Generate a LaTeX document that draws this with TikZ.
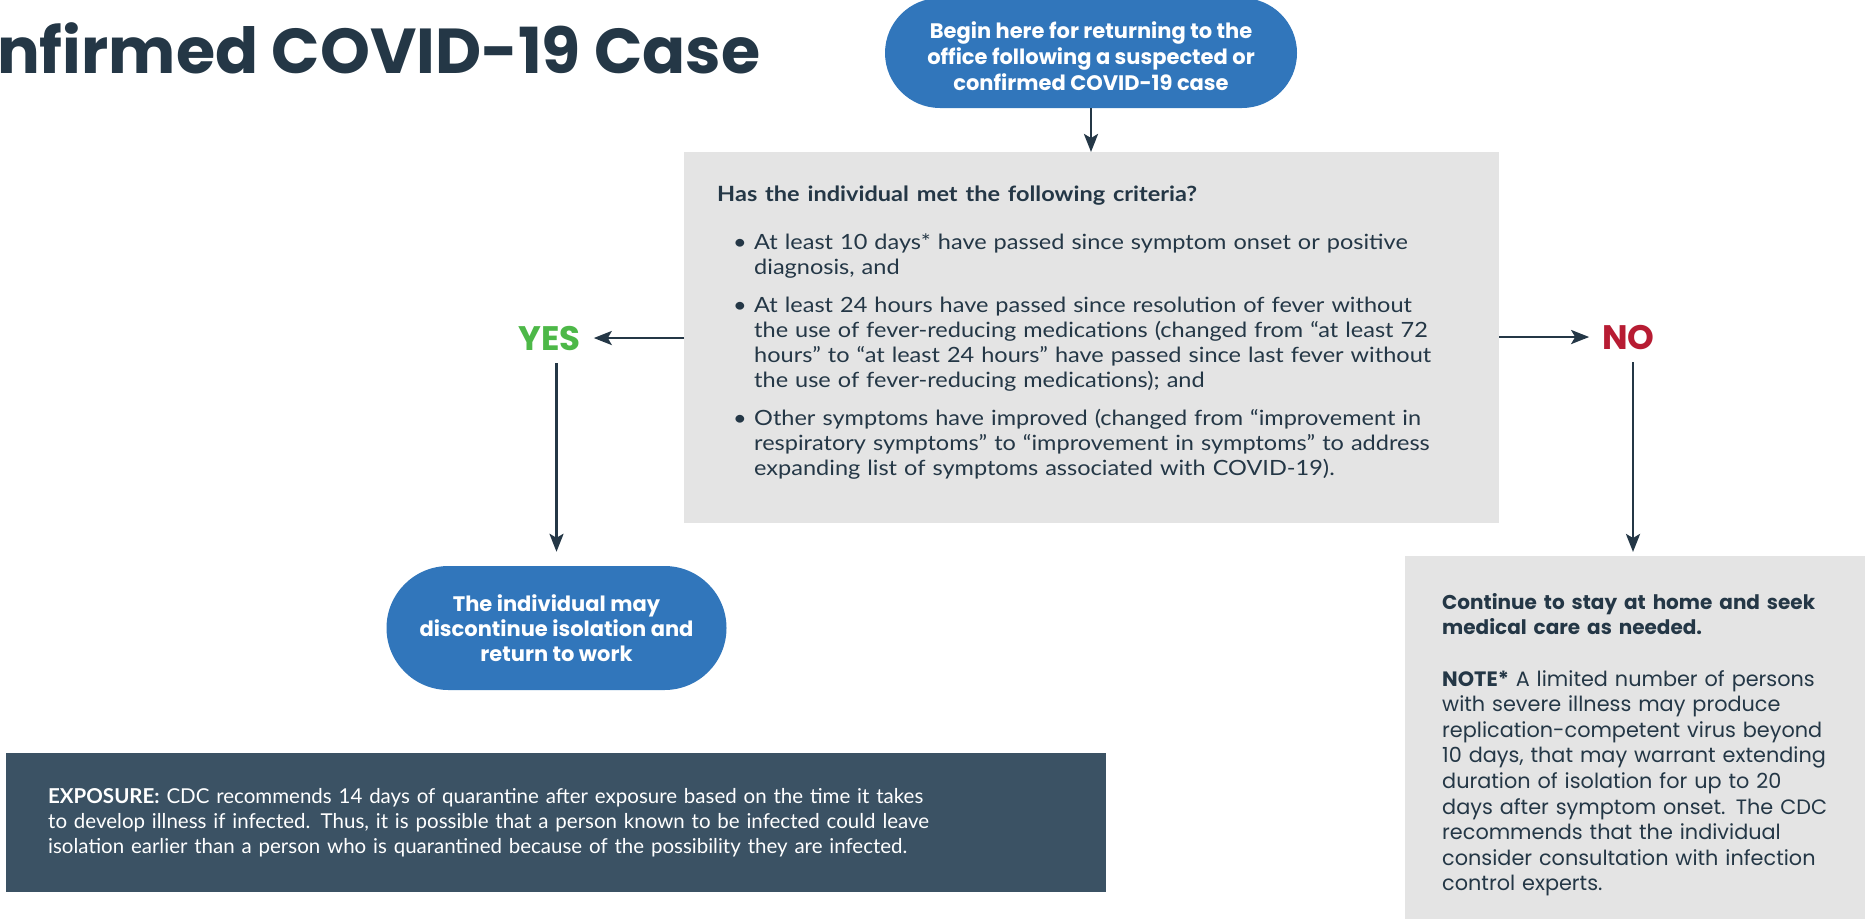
\documentclass[tikz,border=0pt]{standalone}
\usepackage{fontspec}
\setmainfont{Poppins}
\newfontfamily\narrowfont{Lato}
\newfontfamily\critfont{Lato}[FakeStretch=1.12]
\usepackage{tikz}
\usetikzlibrary{positioning}
\usetikzlibrary{calc}
\usetikzlibrary{arrows.meta}
\definecolor{cdcblue}{HTML}{3176BB}
\definecolor{cdcnavy}{HTML}{243746}
\definecolor{cdcgrey}{HTML}{E4E4E4}
\definecolor{cdcslate}{HTML}{3B5264}
\definecolor{cdcgreen}{HTML}{4DB848}
\definecolor{cdcred}{HTML}{B71C33}
\tikzset{>={Stealth[length=18pt,width=14pt,inset=4pt]}}
\tikzstyle{flow}=[->,cdcnavy,line width=2.8pt]
\tikzstyle{pill}=[fill=cdcblue,text=white,align=center,inner sep=0pt,font=\bfseries\fontsize{21}{26}\selectfont]
\tikzstyle{answer}=[inner sep=13pt,anchor=base,font=\bfseries\fontsize{34}{34}\selectfont]
\tikzstyle{panel}=[anchor=north west,inner sep=0pt]
\tikzstyle{bodytext}=[anchor=north west,inner sep=0pt,align=left]
\newcommand{\critem}[1]{\par\vspace{13pt}\noindent\llap{\makebox[21pt][l]{\textbullet}}#1}

\begin{document}
\begin{tikzpicture}[x=1pt,y=-1pt]
\useasboundingbox (0,0) rectangle (1865,921);

% Title
\node[anchor=base west,inner sep=0pt,text=cdcnavy,font=\bfseries\fontsize{63.5}{63.5}\selectfont] (title) at (-3,73) {nfirmed COVID-19 Case};

% Start
\node[pill,minimum width=412pt,minimum height=110pt,rounded corners=55pt] (start) at (1091,53)
  {\rule{0pt}{24pt}Begin here for returning to the\\ office following a suspected or\\ confirmed COVID-19 case};

% Criteria
\node[panel,fill=cdcgrey,minimum width=815pt,minimum height=371pt] (crit) at (684,152) {};
\node[bodytext,text=cdcnavy,text width=780pt,font=\critfont\fontsize{21}{25}\selectfont] (crittxt) at (717,186)
  {\scalebox{1.12}[1]{\narrowfont\bfseries Has the individual met the following criteria?}\par\vspace{10pt}\leftskip=37pt
   \critem{At least 10 days* have passed since symptom onset or positive\\ diagnosis, and}
   \critem{At least 24 hours have passed since resolution of fever without\\ the use of fever-reducing medications (changed from “at least 72\\ hours” to “at least 24 hours” have passed since last fever without\\ the use of fever-reducing medications); and}
   \critem{Other symptoms have improved (changed from “improvement in\\ respiratory symptoms” to “improvement in symptoms” to address\\ expanding list of symptoms associated with COVID-19).}\par};

% Yes / No
\node[answer,text=cdcgreen] (yes) at (549.5,350) {YES};
\node[answer,text=cdcred] (no) at (1628.5,349) {NO};

% Outcomes
\node[pill,minimum width=340pt,minimum height=124pt,rounded corners=62pt,font=\bfseries\fontsize{21}{25}\selectfont] (ret) at (556.5,628)
  {The individual may\\ discontinue isolation and\\ return to work};

\node[panel,fill=cdcgrey,minimum width=500pt,minimum height=363pt] (stay) at (1405,556) {};
\node[bodytext,text=cdcnavy,text width=440pt,font=\fontsize{20.8}{25.6}\selectfont] (staytxt) at (1442,593)
  {{\fontsize{20}{25.6}\selectfont\bfseries Continue to stay at home and seek\\ medical care as needed.}\par\vspace{25.6pt}
   \textbf{NOTE*} A limited number of persons\\ with severe illness may produce\\ replication-competent virus beyond\\ 10 days, that may warrant extending\\ duration of isolation for up to 20\\ days after symptom onset. The CDC\\ recommends that the individual\\ consider consultation with infection\\ control experts.\par};

% Exposure note
\node[panel,fill=cdcslate,minimum width=1100pt,minimum height=139pt] (expo) at (6,753) {};
\node[bodytext,text=white,text width=1050pt,font=\narrowfont\fontsize{20.5}{25}\selectfont] (expotxt) at (48,788)
  {\textbf{EXPOSURE:} CDC recommends 14 days of quarantine after exposure based on the time it takes\\ to develop illness if infected. Thus, it is possible that a person known to be infected could leave\\ isolation earlier than a person who is quarantined because of the possibility they are infected.\par};

% Arrows
\draw[flow] (start.south) -- (start.south |- crit.north);
\draw[flow] (crit.west |- yes.east) -- (yes.east);
\draw[flow] (crit.east |- no.west) -- (no.west);
\draw[flow] (yes.south -| ret.north) -- ([yshift=14pt]ret.north);
\draw[flow,shorten >=4pt] ([xshift=4.5pt]no.south) -- ([xshift=4.5pt]no.south |- stay.north);

\end{tikzpicture}
\end{document}
